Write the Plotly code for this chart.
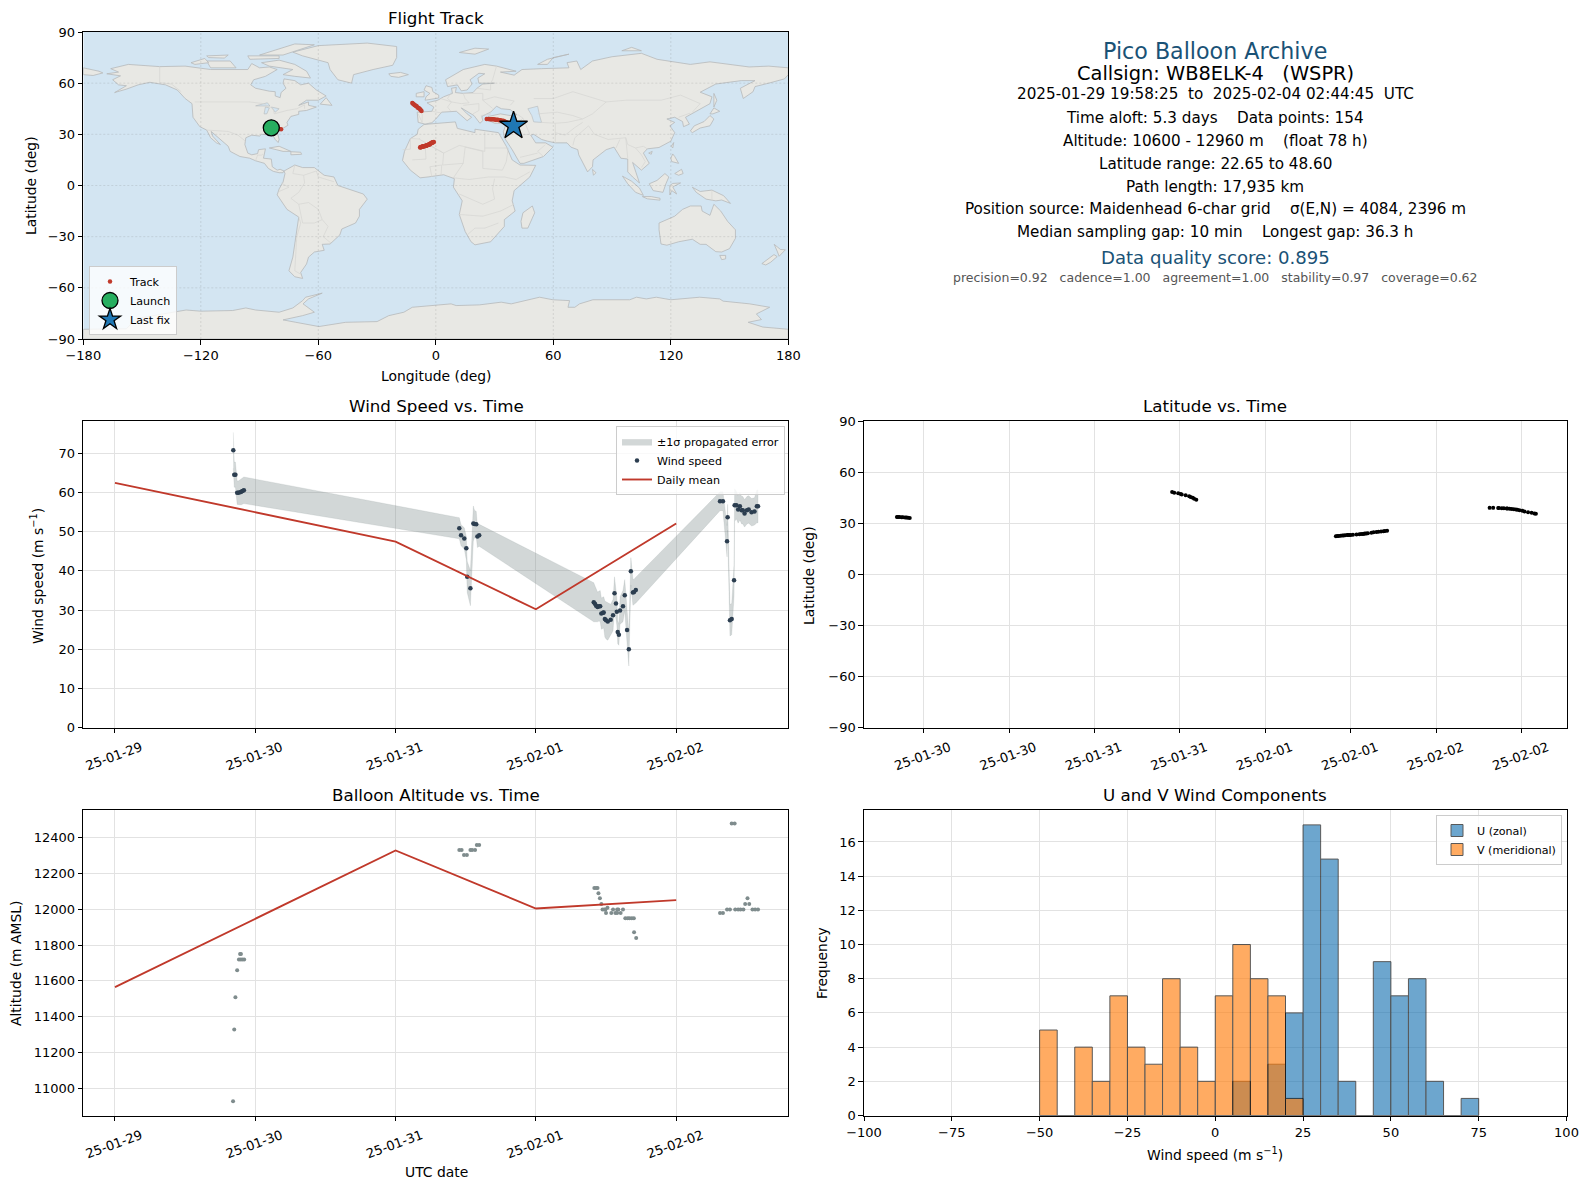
# Pico balloon flight summary, six panel figure
import pandas as pd
import plotly.graph_objects as go

W = 1589
H = 1189

#---DATA---

# hours since 2025-01-29 00:00 as drawn on the time axes
wind_hours = [20.24, 20.4, 20.6, 20.9, 21.1, 21.4, 21.6, 21.8, 22.05,
              58.9, 59.2, 59.75, 60.1, 60.25, 60.8, 61.3, 61.5, 61.8, 62.0, 62.3,
              81.9, 82.1, 82.3, 82.55, 82.8, 83.0, 83.2, 83.5, 83.6, 83.8, 84.0, 84.3, 84.8, 85.2,
              85.45, 85.7, 85.85, 86.0, 86.2, 86.4, 86.9, 87.2, 87.6, 87.9, 88.25, 88.6, 88.8, 89.1,
              103.5, 104.0, 104.7, 104.8, 105.2, 105.5, 105.9, 106.0, 106.3, 106.6, 106.9, 107.2,
              107.4, 107.7, 108.1, 108.4, 108.9, 109.4, 109.8, 110.0]
wind_speed = [70.8, 64.6, 64.6, 60.0, 60.0, 60.1, 60.2, 60.4, 60.6,
              50.9, 49.1, 48.3, 45.8, 38.5, 35.6, 52.1, 52.0, 51.9, 48.8, 49.1,
              32.0, 31.6, 31.1, 30.8, 31.0, 31.0, 29.1, 29.3, 29.4, 27.7, 27.4, 27.1, 27.5, 28.7,
              34.3, 31.7, 29.6, 24.4, 23.7, 29.9, 31.0, 33.8, 24.9, 20.0, 39.9, 34.5, 34.6, 35.1,
              57.8, 57.8, 47.6, 53.7, 27.4, 27.7, 37.6, 56.8, 56.8, 55.7, 56.5, 55.5,
              55.5, 54.7, 55.5, 55.7, 55.0, 55.2, 56.5, 56.5]
wind_sigma = [4.6, 3.2, 3.2, 3.0, 3.0, 3.2, 3.3, 3.4, 3.4,
              2.7, 2.7, 2.7, 3.0, 4.0, 4.5, 4.5, 3.5, 3.3, 2.8, 2.8,
              5.0, 4.6, 4.2, 3.8, 3.8, 4.0, 4.0, 4.0, 4.0, 4.6, 4.8, 4.8, 4.0, 4.0,
              4.2, 4.0, 3.5, 3.0, 2.7, 3.5, 4.0, 4.0, 3.5, 4.3, 3.5, 3.3, 3.3, 3.3,
              2.4, 2.4, 4.0, 3.3, 4.0, 4.0, 4.0, 4.2, 3.5, 3.5, 3.5, 3.5,
              3.5, 3.5, 3.5, 3.5, 3.5, 3.5, 4.2, 4.2]
latitude = [33.6, 33.6, 33.6, 33.5, 33.5, 33.4, 33.3, 33.2, 33.0,
            48.3, 47.9, 47.5, 47.1, 46.8, 46.4, 45.8, 45.4, 45.0, 44.4, 43.7,
            22.3, 22.4, 22.5, 22.6, 22.7, 22.8, 22.9, 23.0, 23.0, 23.1, 23.1, 23.2, 23.3, 23.5,
            23.6, 23.7, 23.8, 23.9, 24.0, 24.1, 24.4, 24.6, 24.8, 25.0, 25.1, 25.3, 25.4, 25.5,
            39.0, 39.0, 38.9, 38.9, 38.8, 38.8, 38.6, 38.6, 38.5, 38.3, 38.2, 38.0,
            37.9, 37.6, 37.3, 36.9, 36.4, 36.1, 35.7, 35.5]
longitude = [-84.0, -83.5, -83.0, -82.4, -81.8, -81.2, -80.5, -79.8, -79.0,
             -12.0, -11.6, -11.1, -10.7, -10.2, -9.8, -9.3, -8.8, -8.3, -7.8, -7.3,
             -8.0, -7.8, -7.5, -7.2, -7.0, -6.8, -6.5, -6.2, -6.0, -5.8, -5.5, -5.2, -5.0, -4.7,
             -4.5, -4.2, -4.0, -3.7, -3.5, -3.2, -3.0, -2.7, -2.4, -2.1, -1.9, -1.6, -1.3, -1.0,
             26.0, 26.8, 27.6, 28.3, 29.0, 29.7, 30.4, 31.0, 31.7, 32.4, 33.0, 33.7,
             34.4, 35.0, 35.7, 36.3, 37.0, 37.8, 38.8, 39.7]

alt_hours = [20.2, 20.4, 20.6, 20.9, 21.4, 21.55, 21.2, 21.5, 21.8, 22.1,
             58.9, 59.3, 59.7, 60.2, 60.8, 61.1, 61.6, 61.9, 62.3,
             82.0, 82.3, 82.55, 82.7, 82.95, 83.2, 83.4, 83.7, 83.9, 84.0, 84.25, 84.9, 85.2, 85.6,
             85.9, 86.1, 85.9, 86.5, 86.9, 87.3, 87.7, 88.0, 88.4, 88.76, 88.8, 89.16,
             103.5, 104.0, 104.7, 105.2, 105.5, 106.0, 106.1, 106.6, 107.0, 107.5, 107.8, 108.2,
             108.5, 109.05, 109.5, 110.0]
altitude = [10927, 11328, 11508, 11660, 11750, 11750, 11720, 11720, 11720, 11720,
            12332, 12332, 12305, 12305, 12332, 12332, 12332, 12360, 12360,
            12120, 12120, 12120, 12090, 12062, 12030, 12000, 12000, 12000, 11980, 12010, 11980, 12000, 11980,
            12000, 12000, 11980, 11980, 12000, 11950, 11950, 11950, 11950, 11950, 11872, 11840,
            11980, 11980, 12000, 12000, 12480, 12480, 12000, 12000, 12000, 12000, 12030, 12062,
            12030, 12000, 12000, 12000]

daily_hours = [0, 48, 72, 96]
daily_wind = [62.5, 47.5, 30.2, 52.1]
daily_alt = [11565, 12330, 12005, 12052]

launch_lon, launch_lat = -84.0, 33.8
last_lon, last_lat = 39.7, 35.0

bin_centers = [-47.5, -42.5, -37.5, -32.5, -27.5, -22.5, -17.5, -12.5, -7.5, -2.5, 2.5, 7.5, 12.5, 17.5,
               22.5, 27.5, 32.5, 37.5, 42.5, 47.5, 52.5, 57.5, 62.5, 67.5, 72.5]
u_counts = [0, 0, 0, 0, 0, 0, 0, 0, 0, 0, 0, 2, 0, 3, 6, 17, 15, 2, 0, 9, 7, 8, 2, 0, 1]
v_counts = [5, 0, 4, 2, 7, 4, 3, 8, 4, 2, 7, 10, 8, 7, 1, 0, 0, 0, 0, 0, 0, 0, 0, 0, 0]

info_lines = [
    "2025-01-29 19:58:25  to  2025-02-04 02:44:45  UTC",
    "Time aloft: 5.3 days    Data points: 154",
    "Altitude: 10600 - 12960 m    (float 78 h)",
    "Latitude range: 22.65 to 48.60",
    "Path length: 17,935 km",
    "Position source: Maidenhead 6-char grid    \u03c3(E,N) = 4084, 2396 m",
    "Median sampling gap: 10 min    Longest gap: 36.3 h",
]

# coastlines, lon/lat
north_america = [(-168, 65.5), (-162, 66.5), (-166, 68.5), (-157, 71), (-141, 69.7), (-128, 70), (-115, 68),
                 (-108, 68), (-96, 68), (-94, 71.5), (-90, 69), (-85, 69.5), (-81, 68), (-87, 64), (-93, 62),
                 (-94.5, 59), (-92, 57), (-85, 55.3), (-82, 55), (-82, 52.5), (-79.5, 51.5), (-79, 54.5),
                 (-76.5, 57), (-78, 60), (-77.5, 62.5), (-72, 61.5), (-69, 59), (-65, 60), (-61, 56), (-56, 52.5),
                 (-60, 50), (-66, 50), (-70, 47), (-65, 49), (-65, 47), (-61, 46), (-66, 44), (-70, 43.5),
                 (-70, 41.7), (-74, 40.5), (-76, 37), (-75.5, 35.3), (-81, 31.5), (-80, 27), (-80.5, 25.2),
                 (-82, 27), (-83, 29), (-85, 29.7), (-89, 30), (-90, 29), (-94, 29.5), (-97, 28), (-97.5, 24),
                 (-96, 19), (-94, 18), (-91, 18.7), (-90.5, 21), (-87, 21.5), (-88, 16), (-84, 15.5), (-83.5, 11),
                 (-81, 9), (-79.5, 9.5), (-77.5, 8.5), (-78, 7.5), (-80, 7.5), (-83, 8.3), (-85.5, 10), (-87.5, 13),
                 (-92, 14.5), (-95, 16), (-100, 17), (-105, 20), (-106, 23), (-109, 26), (-112.5, 30), (-114.7, 31.7),
                 (-114, 29), (-110, 24), (-112, 25), (-115, 28), (-117, 32.5), (-120.5, 34.5), (-124, 40),
                 (-124.5, 48), (-128, 51), (-132, 56), (-138, 59), (-146, 60.5), (-152, 59), (-158, 56.5),
                 (-164, 54.5), (-158, 58.5), (-162, 59), (-165, 62), (-161, 64.3), (-168, 65.5)]
greenland = [(-73, 78.2), (-60, 82), (-35, 83.5), (-20, 81.5), (-20, 75), (-22, 70.5), (-32, 68), (-42, 65),
             (-43, 60), (-50, 62), (-54, 68), (-55, 72), (-68, 76), (-73, 78.2)]
baffin = [(-80, 73.5), (-72, 71), (-66, 67), (-64, 63), (-72, 64), (-78, 65), (-73, 68), (-85, 70), (-89, 72), (-80, 73.5)]
victoria = [(-117, 73), (-105, 73), (-102, 69), (-115, 69), (-117, 73)]
ellesmere = [(-90, 76.5), (-72, 83), (-62, 82.5), (-78, 76.5), (-90, 76.5)]
banks = [(-125, 72), (-118, 74.5), (-116, 72), (-123, 71), (-125, 72)]
devon = [(-96, 76), (-80, 76), (-80, 74.5), (-95, 74), (-96, 76)]
melville = [(-117, 76), (-106, 76.5), (-108, 74.7), (-116, 75), (-117, 76)]
newfoundland = [(-59, 47.7), (-53, 47), (-56, 51.5), (-59, 47.7)]
cuba = [(-85, 22), (-80, 23), (-74, 20), (-78, 20), (-85, 22)]
hispaniola = [(-74, 19.8), (-69, 19.5), (-68.5, 18.3), (-74, 18), (-74, 19.8)]
south_america = [(-77.5, 8.5), (-72, 12), (-68, 10.5), (-62, 10.5), (-57, 6), (-52, 5), (-50, 0), (-44, -2.5),
                  (-37, -5), (-35, -8), (-39, -14), (-39, -18), (-41, -22), (-48, -25.5), (-49, -29), (-54, -34.3),
                  (-58, -34.5), (-57, -38), (-62, -39), (-65, -42), (-66, -46), (-69, -51), (-68, -54.5), (-72, -53.5),
                  (-75, -50), (-73, -42), (-71.5, -30), (-70, -18.5), (-76, -14), (-81, -5.5), (-80, -2), (-78, 2),
                  (-77, 7), (-77.5, 8.5)]
africa = [(-6, 35.8), (10, 37.3), (11, 33.5), (20, 31), (20, 33), (32, 31), (32.5, 30), (36, 23), (39, 15), (43, 12),
          (51, 11.8), (48, 5), (40, -3), (39, -9), (40.5, -15), (35, -20), (35, -24), (32.7, -27), (28, -33),
          (20, -34.8), (18, -33), (15, -27), (12, -17), (13.5, -9), (9, -1), (9.5, 4), (4, 6.3), (-4, 5), (-8, 4.5),
          (-13, 9), (-17, 14.7), (-16, 20), (-13, 27.5), (-9.5, 30), (-9, 33), (-6, 35.8)]
eurasia = [(-9, 37), (-9.5, 43), (-2, 43.5), (-1, 46), (-4.5, 48.5), (1, 50), (4, 52), (8.5, 54), (8, 57), (10.5, 57.5),
           (10, 54.5), (14, 54), (19, 54.5), (21, 57), (24, 59.5), (30, 60), (22, 60), (21.5, 63), (25, 65.5), (22, 65.8),
           (17.5, 62), (18.5, 59.5), (16, 56), (13, 55.5), (11, 59), (6, 58), (5, 62), (14, 68), (25, 71), (31, 70),
           (41, 67), (33, 66.5), (40, 64.7), (44, 68), (54, 68.5), (68, 69), (67, 72), (72, 73), (74, 68), (80, 73),
           (90, 75.5), (105, 77.5), (113, 74), (130, 71), (140, 72.5), (160, 69.5), (170, 70), (180, 69), (180, 65),
           (178, 62.5), (170, 60), (163, 58), (162, 55), (157, 51), (155.5, 57), (163, 61.5), (156, 61.5), (143, 59.5),
           (135, 54.7), (141, 52), (140, 48), (132, 43), (127.5, 40), (129.5, 36), (126.5, 34.5), (126, 37.5), (122, 40),
           (118, 39), (122, 37), (119.5, 35), (122, 31), (120, 26), (114, 22.3), (108, 21.5), (106, 19), (109, 13), (105, 9),
           (100.5, 13.5), (103, 5), (104, 1.5), (100.5, 5), (98, 8), (98, 15.5), (94.5, 16), (91, 22.5), (87, 21), (80.3, 15),
           (80, 11), (77.5, 8), (73, 18), (72.5, 21), (69, 22.5), (67, 25), (61, 25), (57, 26), (54, 27), (50, 30),
           (48.5, 29.5), (51, 25), (56, 25), (59.8, 22.5), (55, 17), (45, 13), (43, 13), (39, 21), (35, 28), (34.5, 31.5),
           (36, 36.5), (30, 36.5), (26.5, 38.5), (27, 40.5), (33, 42), (38, 41), (41.5, 41.5), (38, 44.5), (33.5, 45),
           (31, 46.5), (28, 43), (23.5, 40.5), (24, 38), (22.5, 36.5), (19.5, 41), (13, 45.5), (16, 42), (18.3, 40), (16, 38),
           (10.5, 43.5), (3, 43), (0, 39), (-2, 36.8), (-5.5, 36), (-9, 37)]
chukotka = [(-180, 69), (-172, 67), (-170, 66), (-175, 64.5), (-180, 65), (-180, 69)]
great_britain = [(-5.5, 50), (1.5, 51.3), (1.5, 53), (-1.5, 55), (-2, 57.5), (-5, 58.5), (-6, 56), (-3, 54), (-5, 52), (-5.5, 50)]
ireland = [(-10, 52), (-6, 52), (-6, 55), (-10, 54), (-10, 52)]
iceland = [(-24, 65.5), (-18, 66.3), (-14, 65), (-19, 63.4), (-23, 64), (-24, 65.5)]
svalbard = [(12, 78), (20, 80.5), (27, 80), (20, 77), (12, 78)]
novaya_zemlya = [(52, 71), (57, 74), (68, 77), (60, 75), (57, 71), (52, 71)]
severnaya = [(95, 79), (105, 79), (100, 81), (95, 79)]
japan = [(130, 32), (132, 35), (137, 37.5), (140, 41), (142, 39), (140, 35), (135, 33.7), (131, 31), (130, 32)]
hokkaido = [(140, 42), (142, 45.5), (145, 43.5), (141.5, 42), (140, 42)]
sakhalin = [(142, 46), (142, 54), (143.5, 50), (142, 46)]
taiwan = [(120.2, 23), (121.5, 25.2), (121, 22), (120.2, 23)]
hainan = [(108.7, 19), (110.5, 20), (110, 18.3), (108.7, 19)]
sri_lanka = [(80, 9.5), (81.8, 7.5), (80.5, 6), (80, 9.5)]
luzon = [(120, 16), (121, 18.5), (122, 17), (124, 13), (120.5, 14), (120, 16)]
mindanao = [(122, 7), (125.5, 9.5), (126.3, 7), (124, 6), (122, 7)]
borneo = [(109, 1), (113, 3), (117, 7), (119, 5), (117.5, 1), (116, -4), (111, -3), (109, 1)]
sumatra = [(95.3, 5.5), (100, 2.5), (104, -1.5), (106, -5.8), (102, -4), (98, 1), (95.3, 5.5)]
java = [(105.5, -6.5), (110, -6.5), (114.5, -7.5), (114.5, -8.6), (108, -7.8), (105.5, -6.5)]
sulawesi = [(119.5, -5.5), (119.5, 0), (121, 1.2), (125, 1.5), (121, -0.8), (123, -5), (120.5, -3), (119.5, -5.5)]
new_guinea = [(131, -1), (135, -3.5), (141, -2.7), (147, -6), (150.5, -10.5), (146, -8.5), (143, -9), (138, -8), (133, -4), (131, -1)]
australia = [(114, -22), (122, -18), (126, -14), (130, -12), (135.5, -12), (136, -15), (140, -17.5), (142, -11), (145.5, -15),
             (149, -21), (153, -26), (153, -31), (150, -37), (146, -39), (143, -38.8), (138, -34.5), (135, -34.5), (131, -31.5),
             (124, -33), (118, -35), (115, -34.3), (114, -26), (114, -22)]
tasmania = [(145, -41), (148, -41), (148, -43), (146, -43.5), (145, -41)]
nz_north = [(172.8, -34.5), (176, -37.5), (178.5, -37.7), (175.3, -41.5), (174.5, -39), (172.8, -34.5)]
nz_south = [(172.7, -40.5), (174.3, -41.7), (171, -45), (168.5, -46.6), (166.5, -45.8), (172.7, -40.5)]
madagascar = [(49.3, -12), (50.5, -16), (47, -25), (44, -25), (43.5, -21), (44.5, -16), (49.3, -12)]
antarctica = [(-180, -84.3), (-158, -84), (-153, -78), (-136, -74.5), (-127.5, -73), (-120, -73.7), (-103.7, -73.3), (-97, -71.8),
              (-92, -73), (-80, -74.3), (-73, -71.8), (-68, -67.5), (-66.5, -65.5), (-58, -63.1), (-65, -66.5), (-67.8, -69.4),
              (-62, -74.3), (-68, -76.3), (-78, -78.8), (-71.5, -80.2), (-59.7, -82.7), (-46, -80.2), (-30, -79.8), (-24, -76.3),
              (-16.3, -74.3), (-12, -71.4), (0, -70.4), (7.8, -69.4), (10.4, -70.4), (22.3, -70), (33.4, -68.4), (38.5, -69.4),
              (53, -65.5), (59.8, -67), (68.3, -67.5), (67.5, -71.4), (71, -71.4), (73.4, -69.4), (80.2, -67), (99, -67),
              (102.5, -65.5), (107.5, -66.5), (112.6, -65.5), (120, -67), (134.8, -65.5), (145, -66.5), (146.7, -67.8),
              (160.3, -69.4), (170.5, -71.4), (163.7, -75.3), (166.3, -78.6), (159.5, -80.2), (167, -83), (180, -84.3),
              (180, -90), (-180, -90), (-180, -84.3)]
land_polygons = [north_america, greenland, baffin, victoria, ellesmere, banks, devon, melville, newfoundland, cuba, hispaniola,
                 south_america, africa, eurasia, chukotka, great_britain, ireland, iceland, svalbard, novaya_zemlya, severnaya,
                 japan, hokkaido, sakhalin, taiwan, hainan, sri_lanka, luzon, mindanao, borneo, sumatra, java, sulawesi, new_guinea,
                 australia, tasmania, nz_north, nz_south, madagascar, antarctica]

caspian = [(47, 45), (52, 46.5), (53, 41), (54, 37), (50, 37.3), (49, 41), (47, 45)]
superior = [(-92, 46.7), (-86, 48.5), (-84.7, 46.6), (-92, 46.7)]
michigan = [(-87.7, 42), (-87, 46), (-85, 45.5), (-86.3, 42), (-87.7, 42)]
huron = [(-84, 46), (-80, 45), (-82, 43), (-84, 46)]
water_polygons = [caspian, superior, michigan, huron]

# a few country borders, not exhaustive
border_lines = [
    [(-141, 69.7), (-141, 60.3), (-135, 59.5), (-130, 55)],
    [(-123, 49), (-95, 49), (-88, 48), (-83, 45), (-82.5, 42), (-76, 44), (-71, 45), (-67, 47.3), (-67, 45)],
    [(-117, 32.5), (-108, 31.5), (-106, 31.7), (-101, 29.5), (-97.2, 26)],
    [(-92, 14.7), (-91, 17.8), (-89, 17.8), (-88.3, 18.4)],
    [(-72, 12), (-73, 7), (-67.5, 6), (-67, 1.5), (-70, -4), (-74, -7.5), (-70, -11), (-65, -10), (-60, -14), (-58, -20), (-55, -24), (-57.5, -30), (-53.5, -33.8)],
    [(-67.5, 6), (-61, 8.5), (-60, 5), (-52, 2.2)],
    [(-80, -3.5), (-75, -1), (-79, 1.5)],
    [(-70, -18.5), (-69, -22), (-71, -30), (-71.5, -40), (-72, -50), (-69, -52)],
    [(-70, -11), (-69, -17), (-68, -22), (-62, -22), (-58, -20)],
    [(-8, 27.7), (-8.6, 27.3), (4, 19), (12, 23.5), (25, 20), (25, 31.5)],
    [(-17, 21), (-13, 21.3), (-13, 27.5), (-8.6, 27.3)],
    [(-12, 15), (-5, 15.5), (-5.5, 25), (4, 19), (3.5, 12), (14, 13), (15, 22.5), (24, 20), (24, 10), (34, 9), (36, 14), (37, 22), (25, 22)],
    [(14, 13), (9, 4.5), (17, 3.5), (27, 5), (35, 5), (41, 3.5), (48, 8)],
    [(12, -5), (24, -11), (30, -8), (29, -2), (30, 4)],
    [(12, -17), (24, -18), (33, -15), (40, -11)],
    [(16, -29), (20, -25), (25, -25), (32, -22)],
    [(-2, 5), (-3, 11), (3, 12), (2.7, 6.3)],
    [(-9, 42), (-7, 37), (-6.9, 42)],
    [(-2, 43.5), (3, 42.5)],
    [(2.5, 51), (8, 49), (6, 46), (7.5, 43.8)],
    [(8, 54.8), (6, 51), (8, 49), (13, 48), (17, 48.5), (15, 51), (14, 54)],
    [(14, 54), (24, 54), (24, 50), (30, 52), (40, 49.5), (38, 47)],
    [(24, 50), (29, 45.2)],
    [(21, 57), (28, 56), (28, 59.5)],
    [(31, 70), (29, 62), (28, 60)],
    [(14, 47), (22, 48), (22, 44), (19, 42)],
    [(23, 41), (28, 42), (26.5, 41)],
    [(36, 36.5), (42, 37), (44.5, 39.5), (42, 41.5)],
    [(44.5, 39.5), (48, 30), (42, 29.5), (39, 32), (36, 29.5)],
    [(39, 32), (42, 37)],
    [(61, 25), (61, 31), (61, 36.5), (54, 37)],
    [(52, 42), (62, 43), (70, 41), (75, 39), (67, 37), (61, 36.5)],
    [(61, 31), (66, 29.5), (71, 34), (75, 37)],
    [(70, 23.5), (71, 28), (75, 32), (78, 35)],
    [(50, 51), (60, 51), (70, 55), (87, 49), (97, 50), (107, 50), (115, 50), (125, 53), (135, 48), (131, 43)],
    [(87, 49), (80, 42), (75, 39)],
    [(78, 35), (81, 30), (88, 27), (97, 28), (98, 24), (102, 22), (106, 23), (108, 21.5)],
    [(92, 22), (94, 27)],
    [(97, 28), (98, 16)],
    [(102, 22), (105, 18), (107, 14), (105, 10.5)],
    [(124, 40), (130, 42.5)],
    [(141, -2.7), (141, -9)],
    [(55, 17), (52, 20), (56, 24)],
    [(43, 16.5), (52, 19)],
]

map_lon_ticks = [-180, -120, -60, 0, 60, 120, 180]
map_lat_ticks = [-90, -60, -30, 0, 30, 60, 90]


def hours_to_dates(hours):
    return pd.Timestamp("2025-01-29") + pd.to_timedelta(hours, unit="h")


def xdom(left, right):
    return [left / W, right / W]


def ydom(top, bottom):
    return [1 - bottom / H, 1 - top / H]


#---COLORS---
NAVY = "#2c3e50"
RED = "#c0392b"
GREY = "#7f8c8d"
TITLE_BLUE = "#1a5276"
OCEAN = "#d3e5f2"
LAND = "#e8e8e4"
COAST = "#b6b9ba"
BORDER = "#d6d6d2"
GRID = "#e2e2e2"
FONT = "DejaVu Sans"

fig = go.Figure()

#---MAP---
for poly in land_polygons:
    fig.add_trace(go.Scatter(x=[p[0] for p in poly], y=[p[1] for p in poly], mode="lines", fill="toself",
                             fillcolor=LAND, line=dict(color=COAST, width=0.8), showlegend=False,
                             hoverinfo="skip", xaxis="x", yaxis="y"))
for poly in water_polygons:
    fig.add_trace(go.Scatter(x=[p[0] for p in poly], y=[p[1] for p in poly], mode="lines", fill="toself",
                             fillcolor=OCEAN, line=dict(color=COAST, width=0.6), showlegend=False,
                             hoverinfo="skip", xaxis="x", yaxis="y"))
for line in border_lines:
    fig.add_trace(go.Scatter(x=[p[0] for p in line], y=[p[1] for p in line], mode="lines",
                             line=dict(color=BORDER, width=0.7), showlegend=False,
                             hoverinfo="skip", xaxis="x", yaxis="y"))
# the grid sits above the land on this panel
for lon in map_lon_ticks[1:-1]:
    fig.add_trace(go.Scatter(x=[lon, lon], y=[-90, 90], mode="lines", showlegend=False, hoverinfo="skip",
                             line=dict(color="rgba(120,120,120,0.28)", width=0.7, dash="2px,2px"), xaxis="x", yaxis="y"))
for lat in map_lat_ticks[1:-1]:
    fig.add_trace(go.Scatter(x=[-180, 180], y=[lat, lat], mode="lines", showlegend=False, hoverinfo="skip",
                             line=dict(color="rgba(120,120,120,0.28)", width=0.7, dash="2px,2px"), xaxis="x", yaxis="y"))

fig.add_trace(go.Scatter(x=longitude, y=latitude, mode="markers", name="Track", legend="legend",
                         marker=dict(color=RED, size=4.5), xaxis="x", yaxis="y"))
fig.add_trace(go.Scatter(x=[launch_lon], y=[launch_lat], mode="markers", name="Launch", legend="legend",
                         marker=dict(color="#27ae60", size=16, symbol="circle", line=dict(color="black", width=1.3)),
                         xaxis="x", yaxis="y"))
fig.add_trace(go.Scatter(x=[last_lon], y=[last_lat], mode="markers", name="Last fix", legend="legend",
                         marker=dict(color="#1f77b4", size=21, symbol="star", line=dict(color="black", width=1.3)),
                         xaxis="x", yaxis="y"))
fig.add_shape(type="rect", xref="x", yref="y", x0=-180, x1=180, y0=-90, y1=90, fillcolor=OCEAN, line_width=0, layer="below")

#---WIND SPEED---
wind_t = hours_to_dates(wind_hours)
upper = [v + s for v, s in zip(wind_speed, wind_sigma)]
lower = [v - s for v, s in zip(wind_speed, wind_sigma)]
fig.add_trace(go.Scatter(x=list(wind_t) + list(wind_t[::-1]), y=upper + lower[::-1], mode="lines", fill="toself",
                         fillcolor="rgba(127,140,141,0.35)", line=dict(color="rgba(127,140,141,0.2)", width=0.7),
                         name="\u00b11\u03c3 propagated error", legend="legend2", xaxis="x2", yaxis="y2"))
fig.add_trace(go.Scatter(x=wind_t, y=wind_speed, mode="markers", name="Wind speed", legend="legend2",
                         marker=dict(color=NAVY, size=4.5), xaxis="x2", yaxis="y2"))
fig.add_trace(go.Scatter(x=hours_to_dates(daily_hours), y=daily_wind, mode="lines", name="Daily mean", legend="legend2",
                         line=dict(color=RED, width=1.9), xaxis="x2", yaxis="y2"))

#---LATITUDE---
fig.add_trace(go.Scatter(x=wind_t, y=latitude, mode="markers", marker=dict(color="black", size=4),
                         showlegend=False, xaxis="x3", yaxis="y3"))

#---ALTITUDE---
fig.add_trace(go.Scatter(x=hours_to_dates(alt_hours), y=altitude, mode="markers", marker=dict(color=GREY, size=4),
                         showlegend=False, xaxis="x4", yaxis="y4"))
fig.add_trace(go.Scatter(x=hours_to_dates(daily_hours), y=daily_alt, mode="lines", line=dict(color=RED, width=1.9),
                         showlegend=False, xaxis="x4", yaxis="y4"))

#---HISTOGRAM---
fig.add_trace(go.Bar(x=bin_centers, y=u_counts, width=5, name="U (zonal)", legend="legend3", opacity=0.65,
                     marker=dict(color="#1f77b4", line=dict(color="black", width=1)),
                     xaxis="x5", yaxis="y5"))
fig.add_trace(go.Bar(x=bin_centers, y=v_counts, width=5, name="V (meridional)", legend="legend3", opacity=0.65,
                     marker=dict(color="#ff7f0e", line=dict(color="black", width=1)),
                     xaxis="x5", yaxis="y5"))

#---AXES---
frame = dict(showline=True, linecolor="black", linewidth=1.2, mirror=True, ticks="outside", ticklen=4.5, tickwidth=1,
             tickcolor="black", showgrid=True, gridcolor=GRID, gridwidth=1, zeroline=False, automargin=False,
             tickfont=dict(size=13, color="black"))
date_axis = dict(frame, type="date", tickformat="%y-%m-%d", tickangle=-20, ticklabelshift=26, ticklabelstandoff=2)

COL1 = xdom(83.3, 788.3)
COL2 = xdom(864, 1566.5)
t_wind = [hours_to_dates([-5.42])[0], hours_to_dates([115.18])[0]]
t_lat = [hours_to_dates([15.62])[0], hours_to_dates([114.3])[0]]

fig.update_layout(
    width=W, height=H, margin=dict(l=0, r=0, t=0, b=0), paper_bgcolor="white", plot_bgcolor="white",
    font=dict(family=FONT, size=13, color="black"), barmode="overlay",
    xaxis=dict(frame, domain=COL1, range=[-180, 180], tickvals=map_lon_ticks, showgrid=False),
    yaxis=dict(frame, domain=ydom(32, 339), range=[-90, 90], tickvals=map_lat_ticks, showgrid=False),
    xaxis2=dict(date_axis, domain=COL1, range=t_wind, dtick=86400000, tick0="2025-01-29", anchor="y2"),
    yaxis2=dict(frame, domain=ydom(421, 727.5), range=[0, 78.3], dtick=10, anchor="x2"),
    xaxis3=dict(date_axis, domain=COL2, range=t_lat, dtick=43200000, tick0="2025-01-30", anchor="y3"),
    yaxis3=dict(frame, domain=ydom(421, 727.5), range=[-90, 90], tickvals=map_lat_ticks, anchor="x3"),
    xaxis4=dict(date_axis, domain=COL1, range=t_wind, dtick=86400000, tick0="2025-01-29", anchor="y4"),
    yaxis4=dict(frame, domain=ydom(809.5, 1115.5), range=[10847, 12559], dtick=200, anchor="x4", tickformat="d"),
    xaxis5=dict(frame, domain=COL2, range=[-100, 100], dtick=25, anchor="y5"),
    yaxis5=dict(frame, domain=ydom(809.5, 1115.5), range=[0, 17.9], dtick=2, anchor="x5"),
    legend=dict(x=89 / W, y=1 - 335 / H, xanchor="left", yanchor="bottom", bgcolor="rgba(255,255,255,0.8)",
                bordercolor="#cccccc", borderwidth=1, font=dict(size=11.1), itemsizing="trace"),
    legend2=dict(x=785 / W, y=1 - 426 / H, xanchor="right", yanchor="top", bgcolor="rgba(255,255,255,0.8)",
                 bordercolor="#cccccc", borderwidth=1, font=dict(size=11.1)),
    legend3=dict(x=1562 / W, y=1 - 815 / H, xanchor="right", yanchor="top", bgcolor="rgba(255,255,255,0.8)",
                 bordercolor="#cccccc", borderwidth=1, font=dict(size=11.1)),
)

#---TEXT---
def add_text(text, px_x, px_y, size, color="black", angle=0):
    fig.add_annotation(text=text, x=px_x / W, y=1 - px_y / H, xref="paper", yref="paper", showarrow=False,
                       xanchor="center", yanchor="middle", textangle=angle,
                       font=dict(family=FONT, size=size, color=color))


add_text("Flight Track", 436, 18, 16.7)
add_text("Wind Speed vs. Time", 436, 406, 16.7)
add_text("Latitude vs. Time", 1215, 406, 16.7)
add_text("Balloon Altitude vs. Time", 436, 795, 16.7)
add_text("U and V Wind Components", 1215, 795, 16.7)

add_text("Longitude (deg)", 436, 376, 13.9)
add_text("Latitude (deg)", 31, 186, 13.9, angle=-90)
add_text("Wind speed (m s<sup>\u22121</sup>)", 37, 576, 13.9, angle=-90)
add_text("Latitude (deg)", 809, 576, 13.9, angle=-90)
add_text("UTC date", 436, 1172, 13.9)
add_text("Altitude (m AMSL)", 16, 963, 13.9, angle=-90)
add_text("Wind speed (m s<sup>\u22121</sup>)", 1215, 1154, 13.9)
add_text("Frequency", 822, 963, 13.9, angle=-90)

add_text("Pico Balloon Archive", 1215, 51, 22.2, TITLE_BLUE)
add_text("Callsign: WB8ELK-4   (WSPR)", 1215, 73, 19.4)
info_y = [94.5, 118, 141, 163.5, 187, 209, 232.5]
for line, y in zip(info_lines, info_y):
    add_text(line.replace("  ", "\u00a0\u00a0"), 1215, y, 15.2)
add_text("Data quality score: 0.895", 1215, 257, 18.1, TITLE_BLUE)
add_text("precision=0.92   cadence=1.00   agreement=1.00   stability=0.97   coverage=0.62".replace("  ", "\u00a0\u00a0"),
         1215, 278, 12.5, "#555555")

# browser default body margin would push the figure 8 px off
fig.write_html("out.html", config={"displayModeBar": False}, post_script="document.body.style.margin = '0';")
